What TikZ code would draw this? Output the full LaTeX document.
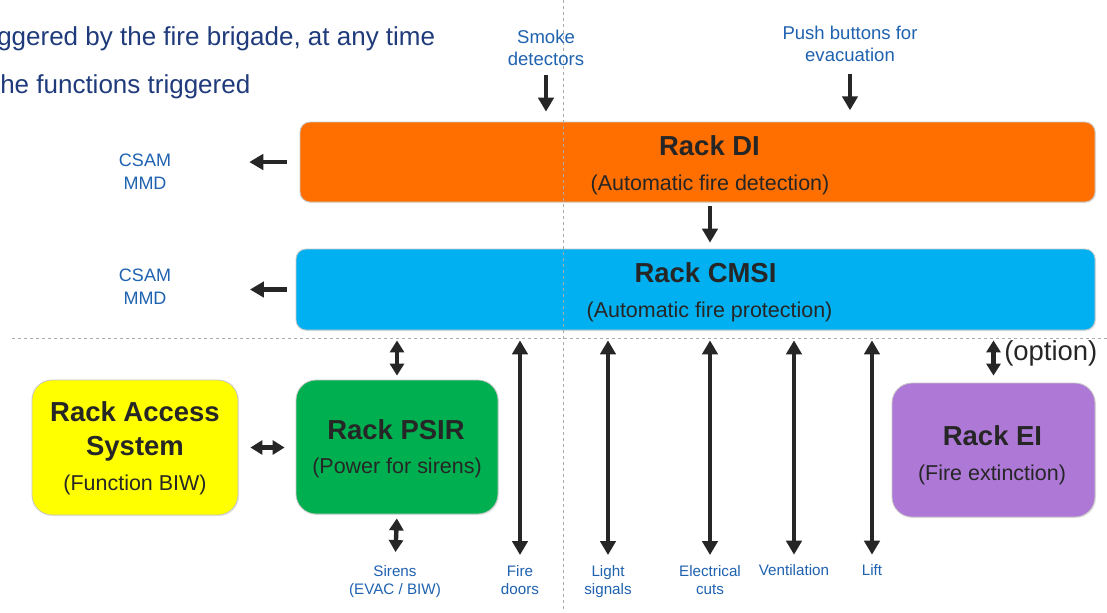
\documentclass[tikz,border=0pt]{standalone}
\usepackage{fontspec}
\setmainfont{Liberation Sans}
\usetikzlibrary{arrows.meta,calc,shadows}
\definecolor{navy}{HTML}{1F3B7B}
\definecolor{lblue}{HTML}{1F62B0}
\definecolor{diorange}{HTML}{FF6F00}
\definecolor{cmsiblue}{HTML}{00B0F0}
\definecolor{psirgreen}{HTML}{00B050}
\definecolor{accyellow}{HTML}{FFFF00}
\definecolor{eipurple}{HTML}{AD78D6}
\definecolor{dashgray}{HTML}{AAAAAA}
\definecolor{ink}{HTML}{262626}
\newcommand\fsz[2]{\fontsize{#1}{#2}\selectfont}
\begin{document}
\begin{tikzpicture}[x=0.75pt,y=-0.75pt,
  rack/.style={draw=black!22, line width=0.6pt, inner sep=0pt,
    drop shadow={opacity=0.18,shadow xshift=0.8pt,shadow yshift=-0.8pt}},
  bigrack/.style={rack, rounded corners=7.5pt},
  smallrack/.style={rack, rounded corners=15pt},
  title/.style={anchor=base, inner sep=0pt, text=ink, font=\fsz{20.6pt}{24pt}\bfseries},
  sub/.style={anchor=base, inner sep=0pt, text=ink, font=\fsz{16.1pt}{19pt}},
  toplbl/.style={anchor=north, inner sep=0pt, align=center, text=lblue, font=\fsz{13.9pt}{16.5pt}},
  sidelbl/.style={anchor=north, inner sep=0pt, align=center, text=lblue, font=\fsz{13.5pt}{17.25pt}},
  botlbl/.style={anchor=north, inner sep=0pt, align=center, text=lblue, font=\fsz{11.4pt}{13.5pt}},
  arr/.style={draw=ink, line width=3.3pt, -{Triangle[length=10.5pt,width=11.5pt]}},
  darr/.style={draw=ink, line width=3.3pt, {Triangle[length=10.5pt,width=11.5pt]}-{Triangle[length=10.5pt,width=11.5pt]}},
  sdarr/.style={draw=ink, line width=3.3pt, {Triangle[length=9pt,width=10.5pt]}-{Triangle[length=9pt,width=10.5pt]}},
  guide/.style={draw=dashgray, line width=0.75pt, dash pattern=on 2.5pt off 2pt},
]
\fill[white] (0,0) rectangle (1107,612);
\useasboundingbox (0,0) rectangle (1107,612);

% boxes
\node[bigrack, fill=diorange, minimum width=596.25pt, minimum height=60pt] (DI) at (697.5,162) {};
\node[bigrack, fill=cmsiblue, minimum width=599.25pt, minimum height=60.75pt] (CMSI) at (695.5,289.5) {};
\node[smallrack, fill=accyellow, minimum width=154.5pt, minimum height=101.25pt] (ACC) at (135,447.5) {};
\node[smallrack, fill=psirgreen, minimum width=151.5pt, minimum height=100.5pt] (PSIR) at (397,447) {};
\node[smallrack, fill=eipurple, minimum width=152.25pt, minimum height=100.5pt] (EI) at (993.5,450) {};

% guide lines
\draw[guide] (563,0) -- (563,612);
\draw[guide] (12,338) -- (1107,338);

% box texts
\node[title] (DIt) at (709.5,155.8) {Rack DI};
\node[sub] (DIs) at (710,190.6) {(Automatic fire detection)};
\node[title] (CMt) at (705.5,282.8) {Rack CMSI};
\node[sub] (CMs) at (709.5,317.6) {(Automatic fire protection)};
\node[title] (ACt1) at (135,421.8) {Rack Access};
\node[title] (ACt2) at (135,455.8) {System};
\node[sub] (ACs) at (135,490.6) {(Function BIW)};
\node[title] (PSt) at (396,439.8) {Rack PSIR};
\node[sub] (PSs) at (397,473.6) {(Power for sirens)};
\node[title] (EIt) at (992.5,445.8) {Rack EI};
\node[sub] (EIs) at (992,480.6) {(Fire extinction)};
\node[anchor=base west, inner sep=0pt, text=ink, font=\fsz{20.6pt}{24pt}] (opt) at (1004,360) {(option)};

% top-left text
\node[anchor=base west, inner sep=0pt, text=navy, font=\fsz{19.5pt}{23pt}] (t1) at (-3,45) {ggered by the fire brigade, at any time};
\node[anchor=base west, inner sep=0pt, text=navy, font=\fsz{19.5pt}{23pt}] (t2) at (0,93) {he functions triggered};

% labels
\node[toplbl] (smoke) at (546,30) {Smoke\\detectors};
\node[toplbl] (push) at (850,26) {Push buttons for\\evacuation};
\node[sidelbl] (csam1) at (145,154) {CSAM\\MMD};
\node[sidelbl] (csam2) at (145,269) {CSAM\\MMD};
\node[botlbl] (sirens) at (395,565) {Sirens\\(EVAC / BIW)};
\node[botlbl] (doors) at (520,565) {Fire\\doors};
\node[botlbl] (light) at (608,565) {Light\\signals};
\node[botlbl] (elec) at (710,565) {Electrical\\cuts};
\node[botlbl] (vent) at (794,564) {Ventilation};
\node[botlbl] (lift) at (872,564) {Lift};

% arrows
\draw[arr, shorten <=7pt, shorten >=7.5pt] (smoke.south) -- (smoke.south |- DI.north);
\draw[arr, shorten <=9pt, shorten >=8.5pt] (push.south) -- (push.south |- DI.north);
\draw[arr, shorten <=3pt, shorten >=4.5pt] ($(DI.south)+(12.5,0)$) coordinate (dic) -- (dic |- CMSI.north);
\draw[arr, shorten <=9.75pt, shorten >=58.5pt] (DI.west) -- (DI.west -| csam1.east);
\draw[arr, shorten <=6.75pt, shorten >=59pt] (CMSI.west) -- (CMSI.west -| csam2.east);
\draw[sdarr, shorten <=9pt, shorten >=8.25pt] (ACC.east) -- (ACC.east -| PSIR.west);
\draw[sdarr, shorten <=7.5pt, shorten >=3pt] (CMSI.south -| PSIR.north) -- (PSIR.north);
\draw[sdarr, shorten <=3pt, shorten >=9.75pt] (PSIR.south) -- (sirens.north);
\draw[darr, shorten <=7.5pt, shorten >=7.5pt] (CMSI.south -| doors.north) -- (doors.north);
\draw[darr, shorten <=7.5pt, shorten >=7.5pt] (CMSI.south -| light.north) -- (light.north);
\draw[darr, shorten <=7.5pt, shorten >=7.5pt] (CMSI.south -| elec.north) -- (elec.north);
\draw[darr, shorten <=7.5pt, shorten >=7pt] (CMSI.south -| vent.north) -- (vent.north);
\draw[darr, shorten <=7.5pt, shorten >=7pt] (CMSI.south -| lift.north) -- (lift.north);
\draw[sdarr, shorten <=7.5pt, shorten >=5.25pt] (CMSI.south -| EI.north) -- (EI.north);
\end{tikzpicture}
\end{document}
